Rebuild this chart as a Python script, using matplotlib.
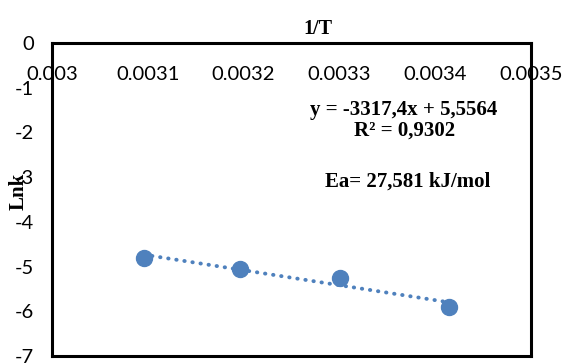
import numpy as np
import matplotlib
matplotlib.use("Agg")
import matplotlib.pyplot as plt

inv_T = [0.003096, 0.003196, 0.003301, 0.003414]
ln_k = [-4.80, -5.06, -5.25, -5.91]
x_ticks = [0.003, 0.0031, 0.0032, 0.0033, 0.0034, 0.0035]
x_tick_labels = ["0.003", "0.0031", "0.0032", "0.0033", "0.0034", "0.0035"]
y_ticks = [0, -1, -2, -3, -4, -5, -6, -7]
eq_text = "y = -3317,4x + 5,5564"
r2_text = "R² = 0,9302"
ea_text = "Ea= 27,581 kJ/mol"

W, H = 568, 363
fig = plt.figure(figsize=(W/100, H/100), dpi=100)
L, R, T, B = 52, 531, 43, 356
ax = fig.add_axes([L/W, 1-B/H, (R-L)/W, (B-T)/H])
ax.set_xlim(0.003, 0.0035)
ax.set_ylim(-7, 0)

blue = "#4F81BD"
coef = np.polyfit(inv_T, ln_k, 1)
xt = np.array([inv_T[0], inv_T[-1]])
ax.plot(xt, np.polyval(coef, xt), color=blue, lw=2.8,
        linestyle=(0, (0.1, 2.0)), dash_capstyle="round", zorder=2)
ax.plot(inv_T, ln_k, "o", color=blue, ms=11.5, mec=blue, zorder=3)

for s in ax.spines.values():
    s.set_linewidth(2.2)
    s.set_color("black")

tickfont = "Lato"
ax.set_xticks(x_ticks)
ax.set_xticklabels(x_tick_labels, fontfamily=tickfont, fontsize=14.5)
ax.tick_params(axis="x", top=True, labeltop=True, bottom=False, labelbottom=False,
               length=0, pad=-29)
ax.set_yticks(y_ticks)
ax.set_yticklabels([str(v) for v in y_ticks], fontfamily=tickfont, fontsize=14.5)
ax.tick_params(axis="y", length=0, pad=13)

serif = "Liberation Serif"
fs = 15
fig.text(318/W, 1-29/H, "1/T", fontfamily=serif, fontweight="bold", fontsize=14.5,
         ha="center", va="center")
fig.text(19/W, 1-191/H, "Lnk", fontfamily=serif, fontweight="bold", fontsize=fs,
         ha="center", va="center", rotation=90)
fig.text(404/W, 1-110/H, eq_text, fontfamily=serif, fontweight="bold", fontsize=fs,
         ha="center", va="center")
fig.text(405/W, 1-131/H, r2_text, fontfamily=serif, fontweight="bold", fontsize=fs,
         ha="center", va="center")
fig.text(407.5/W, 1-182/H, ea_text, fontfamily=serif, fontweight="bold", fontsize=fs,
         ha="center", va="center")

fig.savefig("out.png", dpi=100)
